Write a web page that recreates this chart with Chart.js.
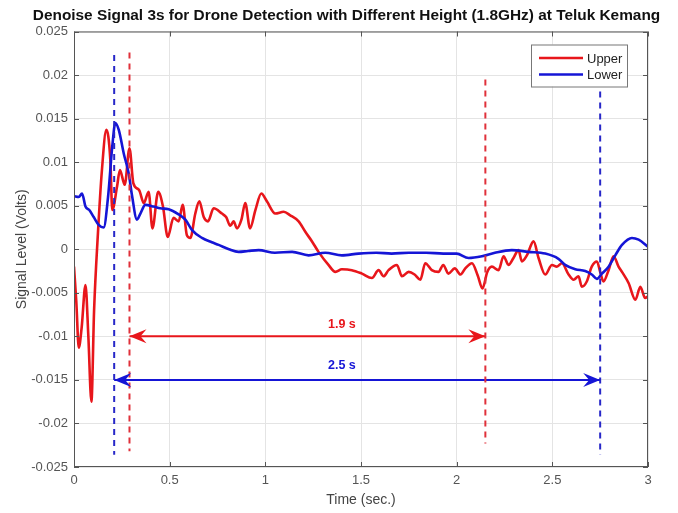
<!DOCTYPE html>
<html>
<head>
<meta charset="utf-8">
<script src="https://cdn.jsdelivr.net/npm/chart.js@4.4.1/dist/chart.umd.min.js"></script>
<style>
  html, body { margin: 0; padding: 0; background: #fff; }
  #wrap { width: 678px; height: 513px; }
</style>
</head>
<body>
<div id="wrap"><canvas id="signalChart" width="678" height="513"></canvas></div>
<script>
// Denoised received signal, upper vs lower drone height
const upperTime = [0, 0.012, 0.025, 0.04, 0.06, 0.075, 0.091, 0.105, 0.125, 0.146, 0.169, 0.19, 0.2, 0.225, 0.24, 0.265, 0.29, 0.31,
  0.34, 0.365, 0.39, 0.41, 0.44, 0.465, 0.49, 0.52, 0.547, 0.568, 0.59, 0.608, 0.634, 0.655, 0.678, 0.70, 0.73, 0.773,
  0.795, 0.817, 0.834, 0.852, 0.875, 0.895, 0.92, 0.948, 0.979, 1.008, 1.052, 1.096, 1.13, 1.174, 1.209, 1.244, 1.278,
  1.33, 1.366, 1.40, 1.452, 1.505, 1.557, 1.592, 1.618, 1.644, 1.688, 1.714, 1.749, 1.78, 1.81, 1.836, 1.87, 1.905,
  1.93, 1.957, 1.99, 2.02, 2.045, 2.08, 2.11, 2.135, 2.16, 2.184, 2.219, 2.245, 2.271, 2.297, 2.323, 2.341, 2.367,
  2.402, 2.428, 2.463, 2.498, 2.524, 2.55, 2.585, 2.611, 2.637, 2.654, 2.68, 2.706, 2.733, 2.75, 2.767, 2.794, 2.82,
  2.846, 2.864, 2.899, 2.934, 2.96, 2.985, 3.0];
const upperLevel = [-0.002, -0.006, -0.0113, -0.009, -0.0041, -0.010, -0.0175, -0.007, 0.0018, 0.0091, 0.0137, 0.0102, 0.0045, 0.0072, 0.0091, 0.0074, 0.0116, 0.0076,
  0.0068, 0.0053, 0.0066, 0.0024, 0.0066, 0.0049, 0.0014, 0.0036, 0.0032, 0.0051, 0.0016, 0.0013, 0.0041, 0.0055, 0.0037, 0.0032, 0.0047, 0.0041,
  0.0037, 0.0027, 0.0032, 0.0024, 0.0034, 0.0053, 0.0024, 0.0045, 0.0064, 0.0055, 0.0041, 0.0043, 0.0039, 0.0032, 0.0020, 0.0009, -0.0003,
  -0.0018, -0.0026, -0.0023, -0.0024, -0.0028, -0.0033, -0.0024, -0.0031, -0.0024, -0.0018, -0.0031, -0.0026, -0.0029, -0.0035, -0.0016, -0.0024, -0.0026,
  -0.0018, -0.0028, -0.0022, -0.0029, -0.0022, -0.0016, -0.0030, -0.0045, -0.0026, -0.0020, -0.0024, -0.0008, -0.0018, -0.0010, -0.0001, -0.0014, -0.0007,
  0.0009, -0.0010, -0.0029, -0.0018, -0.0020, -0.0016, -0.0029, -0.0035, -0.0031, -0.0043, -0.0037, -0.0020, -0.0014, -0.0026, -0.0037, -0.0024, -0.0008,
  -0.0020, -0.0026, -0.0039, -0.0058, -0.0043, -0.0056, -0.0054];

const lowerTime = [0, 0.025, 0.042, 0.06, 0.08, 0.103, 0.129, 0.155, 0.178, 0.2, 0.216, 0.234, 0.26, 0.286, 0.303, 0.329, 0.347, 0.373,
  0.416, 0.451, 0.495, 0.547, 0.582, 0.617, 0.669, 0.72, 0.756, 0.81, 0.86, 0.91, 0.965, 1.05, 1.14, 1.226, 1.313, 1.4,
  1.487, 1.58, 1.66, 1.75, 1.84, 1.93, 2.0, 2.062, 2.132, 2.2, 2.288, 2.375, 2.463, 2.532, 2.567, 2.62, 2.672, 2.706,
  2.733, 2.759, 2.794, 2.829, 2.864, 2.916, 2.951, 3.0];
const lowerLevel = [0.0061, 0.0060, 0.0064, 0.0049, 0.0045, 0.0037, 0.0028, 0.0025, 0.0060, 0.0118, 0.0145, 0.0137, 0.0110, 0.0087, 0.0062, 0.0034, 0.0041, 0.0051,
  0.0049, 0.0047, 0.0046, 0.0040, 0.0034, 0.0022, 0.0013, 0.0008, 0.0005, 0.0000, -0.0003, -0.0002, -0.0001, -0.0004, -0.0003, -0.0007, -0.0004, -0.0007,
  -0.0005, -0.0004, -0.0005, -0.0004, -0.0004, -0.0005, -0.0005, -0.0010, -0.0008, -0.0004, -0.0001, -0.0003, -0.0005, -0.0011, -0.0018, -0.0023, -0.0025, -0.0029,
  -0.0034, -0.0028, -0.0020, -0.0007, 0.0005, 0.0013, 0.0011, 0.0003];

// detection start/end markers (dashed) and the duration spans between them
const upperMarkTime = [0.29, 2.15];
const upperMarkTop = [0.0226, 0.0195];
const upperMarkBottom = [-0.0232, -0.0223];
const lowerMarkTime = [0.21, 2.75];
const lowerMarkTop = [0.0223, 0.0181];
const lowerMarkBottom = [-0.0236, -0.0236];

const upperSpanLevel = -0.01;
const lowerSpanLevel = -0.015;
const spanText = ['1.9 s', '2.5 s'];
const spanTextTime = [1.40, 1.40];
const spanTextLevel = [-0.0087, -0.0134];

const chartTitle = 'Denoise Signal 3s for Drone Detection with Different Height (1.8GHz) at Teluk Kemang';
const seriesNames = ['Upper', 'Lower'];
const RED = '#e8161b';
const BLUE = '#1515d6';
const FONT = '"Liberation Sans", Arial, Helvetica, sans-serif';

const toPoints = (xs, ys) => xs.map((x, i) => ({ x: x, y: ys[i] }));

function markerSets(times, tops, bottoms, color) {
  return times.map((t, i) => ({
    data: [{ x: t, y: tops[i] }, { x: t, y: bottoms[i] }],
    borderColor: color,
    borderWidth: 2,
    borderDash: [6, 5],
    pointRadius: 0,
    order: 0
  }));
}

function spanSet(times, level, color) {
  return {
    data: [{ x: times[0], y: level }, { x: times[1], y: level }],
    borderColor: color,
    borderWidth: 2,
    pointRadius: 0,
    order: 0,
    isSpan: true
  };
}

// MATLAB style box with inward ticks, arrowheads, span labels, title and legend
const decorations = {
  id: 'decorations',
  afterDraw(chart) {
    const ctx = chart.ctx;
    const a = chart.chartArea;
    const xs = chart.scales.x, ys = chart.scales.y;
    ctx.save();

    ctx.strokeStyle = '#555';
    ctx.lineWidth = 1;
    ctx.strokeRect(a.left + 0.5, a.top + 0.5, a.right - a.left - 1, a.bottom - a.top - 1);
    ctx.beginPath();
    xs.ticks.forEach(t => {
      const px = Math.round(xs.getPixelForValue(t.value)) + 0.5;
      ctx.moveTo(px, a.bottom); ctx.lineTo(px, a.bottom - 5);
      ctx.moveTo(px, a.top); ctx.lineTo(px, a.top + 5);
    });
    ys.ticks.forEach(t => {
      const py = Math.round(ys.getPixelForValue(t.value)) + 0.5;
      ctx.moveTo(a.left, py); ctx.lineTo(a.left + 5, py);
      ctx.moveTo(a.right, py); ctx.lineTo(a.right - 5, py);
    });
    ctx.stroke();

    // title sits a little right of the plot centre
    ctx.font = 'bold 15.4px ' + FONT;
    ctx.fillStyle = '#111';
    ctx.textAlign = 'center';
    ctx.textBaseline = 'middle';
    ctx.fillText(chartTitle, 346.5, 16);

    // arrowheads at both ends of each span
    chart.data.datasets.forEach((ds, i) => {
      if (!ds.isSpan) return;
      const pts = chart.getDatasetMeta(i).data;
      const y = pts[0].y;
      ctx.fillStyle = ds.borderColor;
      [[pts[0].x, 1], [pts[1].x, -1]].forEach(([x, dir]) => {
        ctx.beginPath();
        ctx.moveTo(x, y);
        ctx.lineTo(x + dir * 17, y - 7);
        ctx.lineTo(x + dir * 11, y);
        ctx.lineTo(x + dir * 17, y + 7);
        ctx.closePath();
        ctx.fill();
      });
    });

    ctx.font = 'bold 12.5px ' + FONT;
    spanText.forEach((txt, i) => {
      ctx.fillStyle = i === 0 ? RED : BLUE;
      ctx.fillText(txt, xs.getPixelForValue(spanTextTime[i]), ys.getPixelForValue(spanTextLevel[i]));
    });

    // legend
    const bx = a.right - 117, by = a.top + 13, bw = 96, bh = 42;
    ctx.fillStyle = '#fff';
    ctx.fillRect(bx, by, bw, bh);
    ctx.strokeStyle = '#777';
    ctx.lineWidth = 1;
    ctx.strokeRect(bx + 0.5, by + 0.5, bw, bh);
    ctx.font = '13px ' + FONT;
    ctx.textAlign = 'left';
    [RED, BLUE].forEach((c, i) => {
      const ly = by + 13.5 + i * 16.5;
      ctx.strokeStyle = c;
      ctx.lineWidth = 2.5;
      ctx.beginPath();
      ctx.moveTo(bx + 8, ly); ctx.lineTo(bx + 52, ly);
      ctx.stroke();
      ctx.fillStyle = '#222';
      ctx.fillText(seriesNames[i], bx + 56, ly + 1);
    });
    ctx.restore();
  }
};

const tickText = v => String(+(+v).toFixed(3));

new Chart(document.getElementById('signalChart'), {
  type: 'line',
  data: {
    datasets: [
      { label: seriesNames[1], data: toPoints(lowerTime, lowerLevel), borderColor: BLUE, borderWidth: 2.6,
        pointRadius: 0, cubicInterpolationMode: 'monotone', order: 1 },
      { label: seriesNames[0], data: toPoints(upperTime, upperLevel), borderColor: RED, borderWidth: 2.6,
        pointRadius: 0, cubicInterpolationMode: 'monotone', order: 2 },
      ...markerSets(upperMarkTime, upperMarkTop, upperMarkBottom, '#e0303a'),
      ...markerSets(lowerMarkTime, lowerMarkTop, lowerMarkBottom, '#2727c8'),
      spanSet(upperMarkTime, upperSpanLevel, RED),
      spanSet(lowerMarkTime, lowerSpanLevel, BLUE)
    ]
  },
  options: {
    responsive: false,
    animation: false,
    layout: { padding: { left: 0, top: 31.5, right: 30, bottom: 0 } },
    plugins: {
      legend: { display: false },
      tooltip: { enabled: false },
      title: { display: false }
    },
    scales: {
      x: {
        type: 'linear', min: 0, max: 3,
        afterFit: s => { s.height = 46; },
        ticks: { stepSize: 0.5, color: '#555', font: { family: FONT, size: 13 }, padding: 6, callback: tickText },
        grid: { color: '#e4e4e4', drawTicks: false },
        border: { display: false },
        title: { display: true, text: 'Time (sec.)', color: '#444', font: { family: FONT, size: 14 }, padding: { top: 2 } }
      },
      y: {
        min: -0.025, max: 0.025,
        afterFit: s => { s.width = 74; },
        ticks: { stepSize: 0.005, color: '#555', font: { family: FONT, size: 13 }, padding: 6, callback: tickText },
        grid: { color: '#e4e4e4', drawTicks: false },
        border: { display: false },
        title: { display: true, text: 'Signal Level (Volts)', color: '#444', font: { family: FONT, size: 14 }, padding: { top: 14, bottom: 0 } }
      }
    }
  },
  plugins: [decorations]
});
</script>
</body>
</html>
